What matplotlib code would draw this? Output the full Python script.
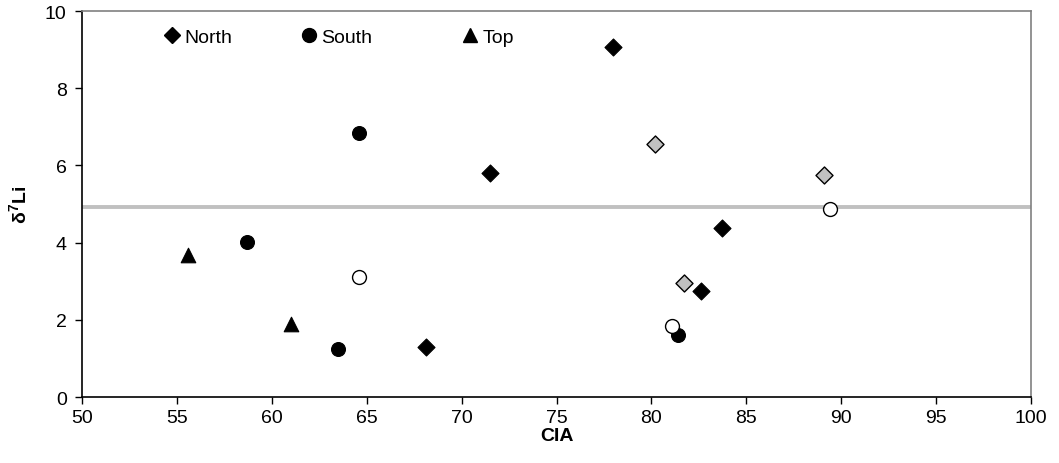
import matplotlib
matplotlib.use("Agg")
import matplotlib.pyplot as plt
from matplotlib.lines import Line2D
from matplotlib.legend import Legend

plt.rcParams['font.family'] = ['Liberation Sans', 'DejaVu Sans']
plt.rcParams['mathtext.fontset'] = 'custom'
plt.rcParams['mathtext.rm'] = 'Liberation Sans'
plt.rcParams['mathtext.bf'] = 'Liberation Sans:bold'

# North profile (black diamonds) and additional North samples (grey diamonds)
north_cia = [78.0, 71.5, 68.1, 83.7, 82.6]
north_li = [9.07, 5.8, 1.3, 4.37, 2.75]
north_grey_cia = [80.2, 89.1, 81.7]
north_grey_li = [6.55, 5.75, 2.95]

# South profile (black circles) and additional South samples (open circles)
south_cia = [64.6, 58.7, 63.5, 81.4]
south_li = [6.85, 4.02, 1.25, 1.6]
south_open_cia = [64.6, 81.1, 89.4]
south_open_li = [3.1, 1.83, 4.87]

# Top samples (triangles)
top_cia = [55.6, 61.0]
top_li = [3.68, 1.9]

# Reference level
ref_li = 4.92

legend_labels = ['North', 'South', 'Top']

fig = plt.figure(figsize=(10.59, 4.64), dpi=100)
ax = fig.add_axes([0.0774, 0.1422, 0.8962, 0.8318])

ax.axhline(ref_li, color='#c0c0c0', lw=2.8, zorder=1)

ax.scatter(north_cia, north_li, marker='D', s=75, c='black', edgecolors='black', linewidths=0.8, zorder=3)
ax.scatter(north_grey_cia, north_grey_li, marker='D', s=75, c='#c0c0c0', edgecolors='black', linewidths=1.0, zorder=3)
ax.scatter(south_cia, south_li, marker='o', s=100, c='black', edgecolors='black', linewidths=0.8, zorder=3)
ax.scatter(south_open_cia, south_open_li, marker='o', s=100, c='white', edgecolors='black', linewidths=1.0, zorder=3)
ax.scatter(top_cia, top_li, marker='^', s=110, c='black', edgecolors='black', linewidths=0.8, zorder=3)

ax.set_xlim(50, 100)
ax.set_ylim(0, 10)
ax.set_xticks(range(50, 101, 5))
ax.set_yticks(range(0, 11, 2))
ax.tick_params(axis='both', direction='out', length=5, width=1.0, labelsize=14, colors='black')
ax.tick_params(axis='y', pad=6)

for side in ('top', 'right'):
    ax.spines[side].set_color('#808080')
    ax.spines[side].set_linewidth(1.2)
for side in ('left', 'bottom'):
    ax.spines[side].set_color('black')
    ax.spines[side].set_linewidth(1.2)

ax.set_xlabel('CIA', fontsize=14, fontweight='bold', labelpad=1)
ax.set_ylabel(r'δ$^{\mathbf{7}}$Li', fontsize=14, fontweight='bold', labelpad=10)

# Legend entries laid out in equal-width slots across the top of the plot
handles = [
    Line2D([], [], marker='D', color='black', ls='', ms=8),
    Line2D([], [], marker='o', color='black', ls='', ms=10),
    Line2D([], [], marker='^', color='black', ls='', ms=10),
]
anchors = [0.064, 0.208, 0.378]
for h, lab, xa in zip(handles, legend_labels, anchors):
    leg = Legend(ax, [h], [lab], frameon=False, loc='upper left',
                 bbox_to_anchor=(xa, 1.0), fontsize=14,
                 handletextpad=0.05, handlelength=1.2)
    ax.add_artist(leg)

fig.savefig('out.png', dpi=100)
